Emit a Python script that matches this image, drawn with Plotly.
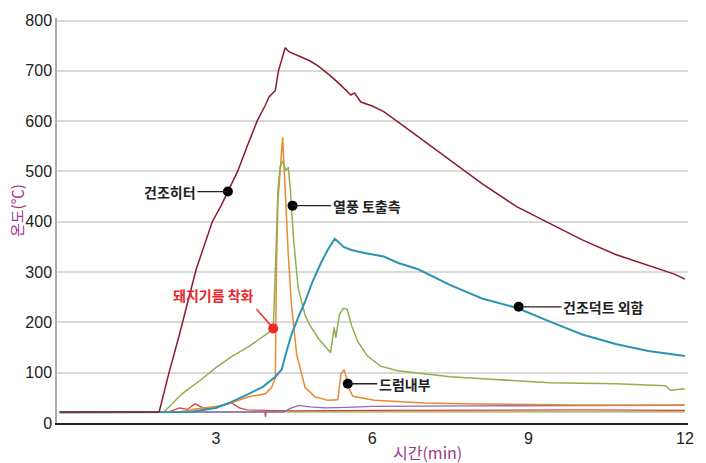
import plotly.graph_objects as go

# ---------------- data ----------------
heater_t = [0, 1.91, 2.10, 2.30, 2.62, 2.93, 3.10, 3.23, 3.42, 3.60, 3.79, 3.95, 4.02, 4.14, 4.20, 4.33,
            4.40, 4.58, 4.80, 4.96, 5.20, 5.40, 5.59, 5.66, 5.78, 6.00, 6.22, 6.50, 6.87, 7.20, 7.50,
            8.12, 8.77, 9.40, 10.03, 10.67, 11.30, 11.80, 12.00]
heater_T = [22, 22, 100, 176, 305, 400, 432, 460, 501, 550, 600, 632, 648, 661, 700, 746,
            738, 730, 720, 710, 690, 671, 652, 656, 638, 630, 619, 598, 570, 545, 521,
            475, 430, 397, 364, 335, 313, 296, 286]

duct_t = [0, 2.50, 3.00, 3.30, 3.63, 3.90, 4.14, 4.26, 4.35, 4.45, 4.58, 4.71, 4.85, 5.02, 5.15, 5.28,
          5.35, 5.45, 5.60, 5.85, 6.22, 6.50, 6.87, 7.20, 7.50, 8.12, 8.77, 9.40, 10.03, 10.67, 11.30, 12.00]
duct_T = [21, 22, 30, 42, 58, 72, 92, 106, 140, 176, 210, 241, 280, 319, 345, 366,
          360, 350, 344, 338, 331, 318, 306, 290, 274, 247, 229, 202, 176, 157, 143, 133]

outlet_t = [0, 2.00, 2.36, 2.70, 3.00, 3.30, 3.63, 3.90, 4.10, 4.15, 4.19, 4.23, 4.28, 4.34, 4.39, 4.43,
            4.49, 4.58, 4.71, 4.80, 4.96, 5.09, 5.20, 5.27, 5.30, 5.37, 5.44, 5.52, 5.60, 5.72, 5.91,
            6.16, 6.49, 6.99, 7.50, 8.12, 9.40, 10.67, 11.63, 11.72, 12.00]
outlet_T = [22, 22, 59, 85, 110, 132, 152, 172, 186, 332, 462, 508, 521, 502, 508, 462,
            365, 267, 215, 195, 169, 153, 140, 190, 169, 215, 228, 226, 195, 162, 133,
            113, 104, 98, 92, 88, 80, 78, 74, 65, 68]

drum_t = [0, 2.30, 2.60, 3.00, 3.30, 3.63, 3.95, 4.07, 4.14, 4.16, 4.19, 4.28, 4.33, 4.39, 4.45, 4.55,
          4.71, 4.90, 5.15, 5.34, 5.40, 5.46, 5.52, 5.57, 5.63, 6.04, 6.99, 8.00, 10.00, 12.00]
drum_T = [22, 22, 28, 33, 40, 52, 58, 71, 90, 300, 440, 568, 462, 332, 234, 136,
          71, 52, 45, 46, 98, 106, 84, 65, 53, 45, 40, 38, 36, 36]

purple_t = [0, 4.30, 4.45, 4.60, 4.80, 5.10, 5.50, 6.00, 8.00, 10.00, 11.70, 12.00]
purple_T = [22, 22, 30, 35, 32, 30, 31, 33, 34, 34, 35, 36]

red_t = [0, 2.10, 2.30, 2.45, 2.60, 2.75, 2.90, 3.10, 3.30, 3.45, 3.60, 3.94, 3.95, 3.97, 4.50, 6.00, 8.00, 10.00, 12.00]
red_T = [22, 22, 30, 27, 38, 30, 28, 34, 40, 30, 26, 25, 12, 25, 24, 25, 26, 26, 25]

base_t = [0, 12.00]
base_T = [22, 22]

y_ticks = [0, 100, 200, 300, 400, 500, 600, 700, 800]
x_ticks = [3, 6, 9, 12]

# annotation points
labels = ["건조히터", "열풍 토출측", "건조덕트 외함", "드럼내부"]
label_t = [3.23, 4.47, 8.81, 5.53]
label_T = [460, 432, 231, 78]
label_ax = [-58, 74, 85, 57]

ignite_label = "돼지기름 착화"
ignite_t = [4.10]
ignite_T = [188]

# ---------------- figure ----------------
fig = go.Figure()

def line(t, T, color, width=1.4):
    fig.add_trace(go.Scatter(x=t, y=T, mode="lines", line=dict(color=color, width=width),
                             hoverinfo="skip", showlegend=False))

line(base_t, base_T, "#8fb04c", 1.3)
line(red_t, red_T, "#d8453b", 1.3)
line(purple_t, purple_T, "#8b6cc0", 1.4)
line(drum_t, drum_T, "#e88a2e", 1.5)
line(outlet_t, outlet_T, "#8fb04c", 1.5)
line(duct_t, duct_T, "#2b95b3", 2.0)
line(heater_t, heater_T, "#8c1c2c", 1.5)

fig.add_trace(go.Scatter(x=label_t, y=label_T, mode="markers",
                         marker=dict(color="black", size=10), hoverinfo="skip", showlegend=False))
fig.add_trace(go.Scatter(x=ignite_t, y=ignite_T, mode="markers",
                         marker=dict(color="#ee2a2a", size=10), hoverinfo="skip", showlegend=False))

cjk = "Noto Sans CJK KR"
for txt, t, T, ax in zip(labels, label_t, label_T, label_ax):
    fig.add_annotation(x=t, y=T, text=txt, showarrow=True, arrowhead=0, arrowwidth=1.3,
                       arrowcolor="#222", ax=ax, ay=0, standoff=0,
                       font=dict(family=cjk, size=14, color="#222", weight="bold"))

# ignition label (text + separate leader line)
fig.add_annotation(x=ignite_t[0], y=ignite_T[0], text="", showarrow=True, arrowhead=0,
                   arrowwidth=1.6, arrowcolor="#e83a3a", ax=-18, ay=-21, standoff=4)
fig.add_annotation(x=ignite_t[0], y=ignite_T[0], text=ignite_label, showarrow=False,
                   xshift=-60, yshift=33, font=dict(family=cjk, size=14, color="#e8282c", weight="bold"))

# axis titles
fig.add_annotation(xref="paper", yref="paper", x=-0.064, y=0.525, xanchor="center", yanchor="middle",
                   text="온도(℃)", textangle=-90,
                   showarrow=False, font=dict(family=cjk, size=15, color="#a3358a"))
fig.add_annotation(xref="paper", yref="paper", x=0.587, y=-0.071, xanchor="center", yanchor="middle",
                   text="시간(min)",
                   showarrow=False, font=dict(family=cjk, size=16, color="#9b3b8b"))

fig.update_layout(
    width=706, height=463,
    margin=dict(l=57, r=13, t=14, b=40),
    plot_bgcolor="white", paper_bgcolor="white",
    showlegend=False,
    xaxis=dict(range=[-0.05, 12.06], tickvals=x_ticks, ticktext=[str(v) for v in x_ticks],
               showgrid=False, zeroline=False, showline=True, linecolor="#222", linewidth=2,
               ticks="", tickfont=dict(family="Liberation Sans", size=16, color="#222")),
    yaxis=dict(range=[0, 805], tickvals=y_ticks, showgrid=True, gridcolor="#d9d9d9", gridwidth=1.5,
               zeroline=False, showline=True, linecolor="#aaa", linewidth=1.5, ticks="",
               tickfont=dict(family="Liberation Sans", size=16, color="#222")),
)

fig.write_html("out.html", config={"displayModeBar": False},
               post_script="document.body.style.margin='0';")
